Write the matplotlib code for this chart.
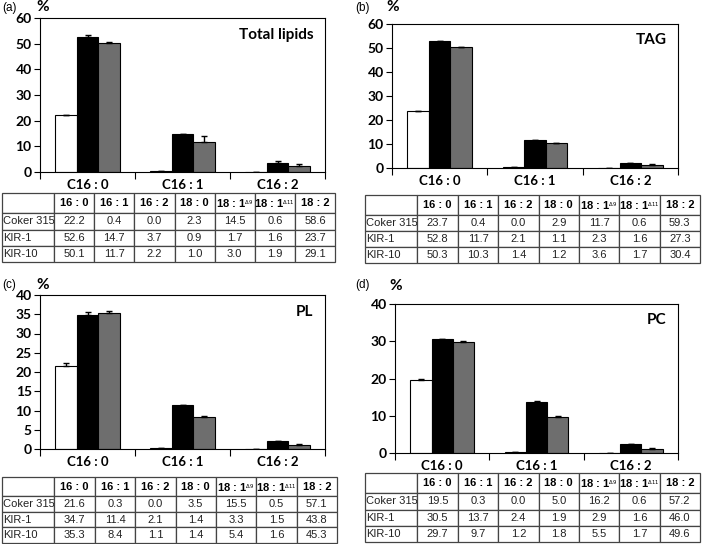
import numpy as np
import matplotlib
matplotlib.use("Agg")
import matplotlib.pyplot as plt
from matplotlib.table import Table

W, H = 709, 544

strains = ["Coker 315", "KIR-1", "KIR-10"]
fa_cols = ["16 : 0", "16 : 1", "16 : 2", "18 : 0",
           "18 : 1$^{_{\\Delta9}}$", "18 : 1$^{_{\\Delta11}}$", "18 : 2"]
bar_cats = ["C16 : 0", "C16 : 1", "C16 : 2"]

# fatty acid composition (%), rows = strains
total_lipids = [[22.2, 0.4, 0.0, 2.3, 14.5, 0.6, 58.6],
                [52.6, 14.7, 3.7, 0.9, 1.7, 1.6, 23.7],
                [50.1, 11.7, 2.2, 1.0, 3.0, 1.9, 29.1]]
tag = [[23.7, 0.4, 0.0, 2.9, 11.7, 0.6, 59.3],
       [52.8, 11.7, 2.1, 1.1, 2.3, 1.6, 27.3],
       [50.3, 10.3, 1.4, 1.2, 3.6, 1.7, 30.4]]
pl = [[21.6, 0.3, 0.0, 3.5, 15.5, 0.5, 57.1],
      [34.7, 11.4, 2.1, 1.4, 3.3, 1.5, 43.8],
      [35.3, 8.4, 1.1, 1.4, 5.4, 1.6, 45.3]]
pc = [[19.5, 0.3, 0.0, 5.0, 16.2, 0.6, 57.2],
      [30.5, 13.7, 2.4, 1.9, 2.9, 1.6, 46.0],
      [29.7, 9.7, 1.2, 1.8, 5.5, 1.7, 49.6]]

# error bars (estimated), rows = strains, cols = C16:0, C16:1, C16:2
err_tl = [[0.0, 0.0, 0.0], [0.7, 0.3, 0.4], [0.5, 2.5, 1.0]]
err_tag = [[0.0, 0.0, 0.0], [0.2, 0.1, 0.1], [0.3, 0.2, 0.2]]
err_pl = [[0.8, 0.0, 0.0], [0.9, 0.1, 0.1], [0.5, 0.2, 0.2]]
err_pc = [[0.4, 0.0, 0.0], [0.2, 0.2, 0.1], [0.3, 0.1, 0.1]]

bar_colors = ["white", "black", "#6e6e6e"]

# pixel layout: axes (l, r, t, b), table (l, r, t, b), panel tag (x, y), "%" (x, y)
panels = [
    dict(tag="(a)", title="Total lipids", data=total_lipids, err=err_tl,
         ylim=60, step=10, ax=(40, 325, 18, 172), tb=(2, 335, 193, 262),
         tagxy=(2, 8), pctxy=(36, 7)),
    dict(tag="(b)", title="TAG", data=tag, err=err_tag,
         ylim=60, step=10, ax=(392, 678, 24, 168), tb=(365, 700, 195, 263),
         tagxy=(355, 8), pctxy=(386, 7)),
    dict(tag="(c)", title="PL", data=pl, err=err_pl,
         ylim=40, step=5, ax=(40, 325, 295, 449), tb=(2, 337, 477, 543),
         tagxy=(2, 285), pctxy=(36, 285)),
    dict(tag="(d)", title="PC", data=pc, err=err_pc,
         ylim=40, step=10, ax=(395, 678, 304, 453), tb=(365, 700, 473, 542),
         tagxy=(355, 285), pctxy=(389, 286)),
]

bold_font = "Lato"
tab_font = "Liberation Sans"


def frac(l, r, t, b):
    return [l / W, 1 - b / H, (r - l) / W, (b - t) / H]


fig = plt.figure(figsize=(W / 100, H / 100), dpi=100)

for p in panels:
    ax = fig.add_axes(frac(*p["ax"]))
    x = np.arange(len(bar_cats))
    bw = 0.225
    for i, s in enumerate(strains):
        vals = p["data"][i][:3]
        xs = x + (i - 1) * bw
        ax.bar(xs, vals, width=bw, color=bar_colors[i], edgecolor="black",
               linewidth=0.8, zorder=2)
        e = p["err"][i]
        ax.errorbar(xs, vals, yerr=[np.zeros(3), e], fmt="none", ecolor="black",
                    elinewidth=1, capsize=2.5, capthick=1, zorder=3)
    ax.set_xlim(-0.5, 2.5)
    ax.set_ylim(0, p["ylim"])
    ax.set_yticks(np.arange(0, p["ylim"] + 1, p["step"]))
    ax.set_xticks([-0.5, 0.5, 1.5, 2.5])
    ax.set_xticklabels([])
    ax.set_xticks(x, minor=True)
    ax.set_xticklabels(bar_cats, minor=True, fontfamily=bold_font,
                       fontweight="bold", fontsize=9.5)
    ax.tick_params(axis="x", which="minor", length=0, pad=5)
    ax.tick_params(axis="x", which="major", direction="out", length=5)
    ax.tick_params(axis="y", direction="out", length=4, pad=2)
    for lab in ax.get_yticklabels():
        lab.set_fontfamily(bold_font)
        lab.set_fontweight("bold")
        lab.set_fontsize(10)
    for sp in ax.spines.values():
        sp.set_linewidth(0.8)
    ax.text(0.96, 0.89, p["title"], transform=ax.transAxes, ha="right",
            va="center", fontfamily=bold_font, fontweight="bold", fontsize=11)
    px, py = p["pctxy"]
    fig.text(px / W, 1 - py / H, "%", ha="left", va="center",
             fontfamily=bold_font, fontweight="bold", fontsize=11)
    tx, ty = p["tagxy"]
    fig.text(tx / W, 1 - ty / H, p["tag"], ha="left", va="center",
             fontfamily=tab_font, fontsize=8.5)

    # table below
    tax = fig.add_axes(frac(*p["tb"]))
    tax.axis("off")
    tb = Table(tax, bbox=[0, 0, 1, 1])
    widths = [1.3] + [1.0] * len(fa_cols)
    heights = [1.25, 1.0, 1.0, 1.0]
    header = [""] + fa_cols
    for c, txt in enumerate(header):
        cell = tb.add_cell(0, c, widths[c], heights[0], text=txt, loc="center")
        cell.get_text().set_fontweight("bold")
    for i, s in enumerate(strains):
        cell = tb.add_cell(i + 1, 0, widths[0], heights[i + 1], text=s, loc="left")
        cell.PAD = 0.02
        for j, v in enumerate(p["data"][i]):
            tb.add_cell(i + 1, j + 1, widths[j + 1], heights[i + 1],
                        text=f"{v:.1f}", loc="center")
    tb.auto_set_font_size(False)
    for (rr, cc), cell in tb.get_celld().items():
        cell.set_edgecolor("#444444")
        cell.set_linewidth(0.9)
        t_ = cell.get_text()
        t_.set_fontfamily(tab_font)
        t_.set_fontsize(8)
        if rr > 0:
            t_.set_color("#222222")
    tax.add_table(tb)

fig.savefig("out.png", dpi=100)
